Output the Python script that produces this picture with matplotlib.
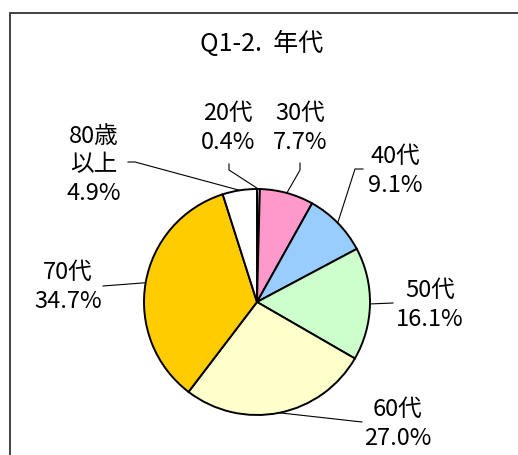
import numpy as np
import matplotlib.pyplot as plt
from matplotlib.patches import Rectangle

plt.rcParams['font.family'] = ['Noto Sans CJK JP', 'DejaVu Sans']

# データ
labels = ['20代', '30代', '40代', '50代', '60代', '70代', '80歳\n以上']
values = [0.4, 7.7, 9.1, 16.1, 27.0, 34.7, 4.9]
colors = ['#FFFFFF', '#FF99CC', '#99CCFF', '#CCFFCC', '#FFFFCC', '#FFCC00', '#FFFFFF']

W, H = 518, 455
fig = plt.figure(figsize=(W / 100, H / 100), dpi=100)
ax = fig.add_axes([0, 0, 1, 1])


def py(y):
    # ピクセル座標（上から）を下からの座標へ
    return H - y


cx, cy, r = 257, py(302), 113
wedges, _ = ax.pie(values, colors=colors, startangle=90, counterclock=False,
                   center=(cx, cy), radius=r, frame=True,
                   wedgeprops=dict(edgecolor='black', linewidth=1.4))
ax.set_xlim(0, W)
ax.set_ylim(0, H)
ax.set_aspect('equal')
ax.axis('off')

# 外枠
ax.add_patch(Rectangle((10, py(13) - 600), 600, 600, fill=False,
                       edgecolor='#333333', linewidth=1.3))

ax.text(262, py(44), 'Q1-2.  年代', ha='center', va='center', fontsize=18)

# ラベル位置と引き出し線の始点（ピクセル座標）
text_pos = [(228, 127), (300, 127), (395, 170), (430, 304),
            (398, 423), (68, 286), (94, 164)]
leader = [[(229, 164), (229, 170)], [(300, 163), (300, 170)],
          [(363, 169), (355, 169)], [(393, 303)], [(362, 422)],
          [(103, 286)], [(128, 162), (135, 162)]]

for w, lab, v, tp, ld in zip(wedges, labels, values, text_pos, leader):
    ang = np.deg2rad((w.theta1 + w.theta2) / 2)
    ex, ey = cx + r * np.cos(ang), cy + r * np.sin(ang)
    xs = [p[0] for p in ld] + [ex]
    ys = [py(p[1]) for p in ld] + [ey]
    ax.plot(xs, ys, color='black', linewidth=0.8, zorder=0.5)
    ax.text(tp[0], py(tp[1] + 1), f'{lab}\n{v:.1f}%', ha='center', va='center',
            fontsize=17, linespacing=1.33)

fig.savefig('out.png', dpi=100)
